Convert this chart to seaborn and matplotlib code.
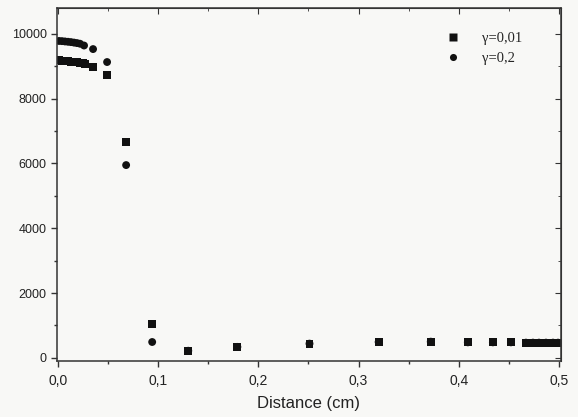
import numpy as np
import pandas as pd
import seaborn as sns
import matplotlib
matplotlib.use("Agg")
import matplotlib.pyplot as plt
from matplotlib.ticker import MultipleLocator, FuncFormatter

# gamma = 0.01 (squares)
x_sq = [0.001, 0.004, 0.007, 0.010, 0.013, 0.016, 0.019, 0.022, 0.025, 0.027, 0.035,
        0.049, 0.068, 0.094, 0.130, 0.179, 0.251, 0.320, 0.372, 0.409, 0.434,
        0.452, 0.467, 0.474, 0.480, 0.487, 0.494, 0.499]
y_sq = [9180, 9170, 9160, 9150, 9140, 9130, 9120, 9110, 9095, 9080, 8990,
        8720, 6650, 1040, 215, 330, 440, 490, 500, 480, 480,
        480, 470, 470, 470, 470, 470, 470]

# gamma = 0.2 (circles)
x_ci = [0.001, 0.004, 0.007, 0.010, 0.013, 0.016, 0.019, 0.022, 0.026, 0.035,
        0.049, 0.068, 0.094, 0.130, 0.179, 0.251, 0.320, 0.372, 0.409, 0.434,
        0.452, 0.467, 0.474, 0.480, 0.487, 0.494, 0.499]
y_ci = [9780, 9775, 9765, 9755, 9745, 9730, 9715, 9695, 9640, 9530,
        9130, 5950, 490, 220, 340, 440, 490, 500, 480, 480,
        480, 470, 470, 470, 470, 470, 470]

labels = ["γ=0,01", "γ=0,2"]
xticks = [0.0, 0.1, 0.2, 0.3, 0.4, 0.5]
yticks = [0, 2000, 4000, 6000, 8000, 10000]

df = pd.DataFrame({
    "x": x_sq + x_ci,
    "y": y_sq + y_ci,
    "series": [labels[0]] * len(x_sq) + [labels[1]] * len(x_ci),
})

sns.set_style("ticks")
plt.rcParams["font.family"] = ["Liberation Sans", "DejaVu Sans"]

fig = plt.figure(figsize=(5.78, 4.17), dpi=100, facecolor="#f8f8f6")
ax = fig.add_axes([0.0986, 0.134, 0.872, 0.847])
ax.set_facecolor("#f8f8f6")

sns.scatterplot(data=df, x="x", y="y", style="series", hue="series",
                markers={labels[0]: "s", labels[1]: "o"},
                palette={labels[0]: "#111111", labels[1]: "#111111"},
                s=32, edgecolor="none", ax=ax, legend=True)

ax.set_xlim(-0.001, 0.502)
ax.set_ylim(-100, 10800)
ax.set_xticks(xticks)
ax.set_yticks(yticks)
ax.xaxis.set_minor_locator(MultipleLocator(0.05))
ax.yaxis.set_minor_locator(MultipleLocator(1000))
ax.xaxis.set_major_formatter(FuncFormatter(lambda v, p: f"{v:.1f}".replace(".", ",")))
ax.yaxis.set_major_formatter(FuncFormatter(lambda v, p: f"{int(round(v))}"))
ax.tick_params(which="both", direction="out", colors="#333333", labelsize=9,
               labelcolor="#222222", width=1)
ax.tick_params(axis="x", which="major", labelsize=10, pad=5)
ax.tick_params(which="major", length=4)
ax.tick_params(which="minor", length=2.5)
for s in ax.spines.values():
    s.set_color("#333333")
    s.set_linewidth(1.1)

# inward ticks on top and right
for side in ("top", "right"):
    if side == "top":
        sec = ax.secondary_xaxis("top")
        sec.set_xticks(xticks)
        sec.xaxis.set_minor_locator(MultipleLocator(0.05))
    else:
        sec = ax.secondary_yaxis("right")
        sec.set_yticks(yticks)
        sec.yaxis.set_minor_locator(MultipleLocator(1000))
    sec.tick_params(which="both", direction="in", labelleft=False, labelright=False,
                    labeltop=False, labelbottom=False, colors="#333333")
    sec.tick_params(which="major", length=4)
    sec.tick_params(which="minor", length=2.5)
    for s in sec.spines.values():
        s.set_color("#333333")

ax.set_xlabel("Distance (cm)", fontsize=12, color="#222222", labelpad=6)
ax.set_ylabel("")

leg = ax.legend(loc="upper right", bbox_to_anchor=(0.95, 0.97), frameon=False,
                prop={"family": ["Liberation Serif", "DejaVu Serif"], "size": 10.5},
                handletextpad=1.0, labelspacing=0.5, markerscale=0.9)

fig.savefig("out.png", dpi=100, facecolor=fig.get_facecolor())
